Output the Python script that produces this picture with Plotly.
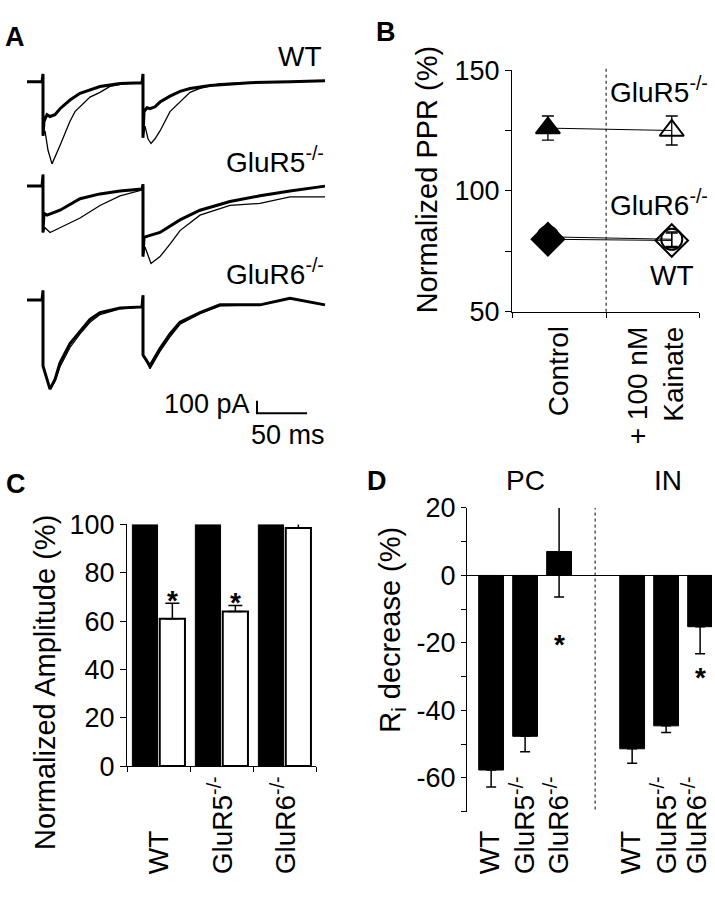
import plotly.graph_objects as go

W, H = 715, 899
FONT = "Liberation Sans, Arial, sans-serif"

# ---------------- panel A: example currents (ms from 1st stimulus, pA) ----------------
wt_ctrl_t = [-16, -1, 0, 0, 1, 4, 7, 12, 17, 27, 37, 47, 57, 77, 99, 100, 100, 101, 104, 107, 112, 117,
             127, 137, 147, 167, 207, 247, 282]
wt_ctrl_i = [0, 0, 62, -431, -315, -262, -277, -262, -215, -146, -92, -62, -38, -15, -8, 62, -446, -238,
             -208, -215, -200, -162, -115, -77, -54, -31, -8, 0, 8]
wt_ka_t = [-16, -1, 0, 0, 2, 5, 9, 13, 17, 27, 32, 47, 57, 67, 82, 99, 100, 100, 102, 105, 108, 112, 117,
           127, 137, 147, 157, 177, 207, 247, 282]
wt_ka_i = [0, 0, 62, -431, -392, -546, -654, -585, -508, -315, -238, -123, -85, -38, -15, -8, 62, -446,
           -354, -454, -492, -454, -392, -238, -161, -85, -54, -15, -8, 0, 8]

r5_ctrl_t = [-16, -1, 0, 0, 1, 4, 17, 37, 57, 77, 99, 100, 100, 101, 107, 117, 137, 157, 187, 217, 247, 282]
r5_ctrl_i = [0, 0, 92, -369, -215, -231, -192, -100, -62, -38, -23, 15, -561, -408, -392, -369, -269,
             -192, -123, -77, -38, 0]
r5_ka_t = [-16, -1, 0, 0, 2, 7, 17, 37, 57, 77, 99, 100, 100, 102, 108, 117, 127, 137, 157, 187, 217,
           247, 282]
r5_ka_i = [0, 0, 92, -369, -331, -369, -331, -254, -154, -77, -31, 15, -561, -485, -615, -561, -461,
           -354, -231, -154, -138, -85, -85]

r6_ctrl_t = [-16, -1, 0, 0, 2, 7, 12, 17, 27, 37, 47, 57, 77, 99, 100, 100, 102, 107, 117, 127, 137,
             157, 177, 217, 247, 282]
r6_ctrl_i = [0, 0, 77, -523, -577, -708, -631, -500, -346, -246, -154, -100, -62, -54, 38, -438, -462,
             -523, -385, -269, -177, -100, -38, -38, 15, -38]
r6_ka_t = r6_ctrl_t
r6_ka_i = [0, 0, 77, -523, -577, -708, -646, -531, -377, -269, -177, -115, -69, -54, 38, -438, -462,
           -546, -408, -292, -192, -108, -46, -38, 15, -38]

trace_offsets = {"WT": 0, "GluR5": -831, "GluR6": -1738}
scale_pa, scale_ms = 100, 50

# ---------------- panel B: normalized PPR ----------------
ppr_conditions = ["Control", "+ 100 nM<br>Kainate"]
ppr_glur5 = [126, 125]
ppr_glur5_err = [5, 6]
ppr_glur6 = [81, 80]
ppr_glur6_err = [3, 3]
ppr_wt = [80, 79.5]
ppr_wt_err = [3, 3]

# ---------------- panel C: normalized amplitude ----------------
amp_groups = ["WT", "GluR5<sup>-/-</sup>", "GluR6<sup>-/-</sup>"]
amp_control = [100, 100, 100]
amp_kainate = [61, 64, 98.5]
amp_kainate_err = [6.4, 2.4, 2]
amp_signif = [True, True, False]

# ---------------- panel D: Ri decrease ----------------
ri_groups = ["WT", "GluR5<sup>-/-</sup>", "GluR6<sup>-/-</sup>"]
ri_pc = [-57.7, -47.7, 7.1]
ri_pc_err_up = [0, 0, 13.5]
ri_pc_err_dn = [5, 4.6, 13.5]
ri_pc_signif = [False, False, True]
ri_in = [-51.4, -44.6, -15.2]
ri_in_err_up = [0, 0, 0]
ri_in_err_dn = [4.3, 2, 8]
ri_in_signif = [False, False, True]


def xp(px):
    return px / W


def yp(py):
    return 1 - py / H


def label(text, x, y, size=28, xanchor="center", yanchor="middle", angle=0, bold=False, align="center"):
    if bold:
        text = "<b>" + text + "</b>"
    return dict(text=text, x=xp(x), y=yp(y), xref="paper", yref="paper", showarrow=False,
                xanchor=xanchor, yanchor=yanchor, textangle=angle, align=align,
                font=dict(family=FONT, size=size, color="black"))


def star(x, y, xref, yref, shift):
    return dict(text="<b>*</b>", x=x, y=y, xref=xref, yref=yref, showarrow=False, yanchor="middle",
                yshift=shift, font=dict(family=FONT, size=28, color="black"))


fig = go.Figure()
ann = []
shapes = []

# panel A traces
for name, ct, ci, kt, ki in [("WT", wt_ctrl_t, wt_ctrl_i, wt_ka_t, wt_ka_i),
                             ("GluR5", r5_ctrl_t, r5_ctrl_i, r5_ka_t, r5_ka_i),
                             ("GluR6", r6_ctrl_t, r6_ctrl_i, r6_ka_t, r6_ka_i)]:
    off = trace_offsets[name]
    fig.add_trace(go.Scatter(x=kt, y=[v + off for v in ki], mode="lines",
                             line=dict(color="black", width=1.3), xaxis="x", yaxis="y", hoverinfo="skip"))
    fig.add_trace(go.Scatter(x=ct, y=[v + off for v in ci], mode="lines",
                             line=dict(color="black", width=3), xaxis="x", yaxis="y", hoverinfo="skip"))

# scale bar
sb_t, sb_y = 214, -2638
fig.add_trace(go.Scatter(x=[sb_t, sb_t, sb_t + scale_ms], y=[sb_y + scale_pa, sb_y, sb_y], mode="lines",
                         line=dict(color="black", width=2), xaxis="x", yaxis="y", hoverinfo="skip"))

# panel B
ppr_x = list(range(len(ppr_conditions)))
for vals, errs, sym, size in [(ppr_glur5, ppr_glur5_err, "triangle-up", 21),
                              (ppr_glur6, ppr_glur6_err, "circle", 21),
                              (ppr_wt, ppr_wt_err, "diamond", 25)]:
    fig.add_trace(go.Scatter(x=ppr_x, y=vals, mode="lines+markers", xaxis="x2", yaxis="y2",
                             line=dict(color="black", width=1),
                             marker=dict(symbol=[sym, sym + "-open"], size=size, color="black",
                                         line=dict(color="black", width=2)),
                             error_y=dict(type="data", array=errs, color="black", thickness=1.3, width=6)))

# panel C
fig.add_trace(go.Bar(x=[0, 1, 2], y=amp_control, width=0.4, offset=-0.415, xaxis="x3", yaxis="y3",
                     marker=dict(color="black", line=dict(color="black", width=1))))
fig.add_trace(go.Bar(x=[0, 1, 2], y=amp_kainate, width=0.4, offset=0.02, xaxis="x3", yaxis="y3",
                     marker=dict(color="white", line=dict(color="black", width=2)),
                     error_y=dict(type="data", symmetric=False, array=amp_kainate_err,
                                  arrayminus=[0, 0, 0], color="black", thickness=1.5, width=7)))

# panel D
ri_pc_x = [0, 1, 2]
ri_in_x = [4.15, 5.15, 6.15]
for xs, vals, up, dn in [(ri_pc_x, ri_pc, ri_pc_err_up, ri_pc_err_dn),
                         (ri_in_x, ri_in, ri_in_err_up, ri_in_err_dn)]:
    fig.add_trace(go.Bar(x=xs, y=vals, width=0.73, offset=-0.365, xaxis="x4", yaxis="y4",
                         marker=dict(color="black", line=dict(color="black", width=1)),
                         error_y=dict(type="data", symmetric=False, array=up, arrayminus=dn,
                                      color="black", thickness=1.5, width=5)))

# ---------- annotations ----------
ann += [label("A", 15, 23, 27, bold=True), label("B", 386, 18, 27, bold=True),
        label("C", 16, 485, 27, bold=True), label("D", 377, 482, 27, bold=True)]

# A labels
ann += [label("WT", 324, 43, 28, xanchor="right"),
        label("GluR5<sup>-/-</sup>", 326, 150, 28, xanchor="right"),
        label("GluR6<sup>-/-</sup>", 326, 266, 28, xanchor="right"),
        label("100 pA", 252, 402, 27, xanchor="right"),
        label("50 ms", 327, 434, 27, xanchor="right")]

# B labels
ann += [label("Normalized PPR (%)", 427, 170, 29, angle=-90),
        label("GluR5<sup>-/-</sup>", 608, 78, 28, xanchor="left"),
        label("GluR6<sup>-/-</sup>", 608, 195, 28, xanchor="left"),
        label("WT", 672, 270, 28),
        label(ppr_conditions[0], 558, 320, 28, angle=-90, yanchor="top"),
        label(ppr_conditions[1], 655, 320, 28, angle=-90, yanchor="top", align="right")]

# C labels
ann.append(label("Normalized Amplitude (%)", 45, 691, 29, angle=-90))
for i, g in enumerate(amp_groups):
    ann.append(label(g, 158 + 63 * i, 891, 28, angle=-90, yanchor="bottom"))
for i, s in enumerate(amp_signif):
    if s:
        ann.append(star(i + 0.22, amp_kainate[i] + amp_kainate_err[i], "x3", "y3", 3))

# D labels
ann += [label("R<sub>i</sub> decrease (%)", 392, 636, 29, angle=-90),
        label("PC", 525, 482, 28), label("IN", 668, 482, 28)]
for xs in (ri_pc_x, ri_in_x):
    for xv, g in zip(xs, ri_groups):
        ann.append(label(g, min(489 + 34 * xv, 695), 891, 28, angle=-90, yanchor="bottom"))
for xs, vals, dn, sig in [(ri_pc_x, ri_pc, ri_pc_err_dn, ri_pc_signif),
                          (ri_in_x, ri_in, ri_in_err_dn, ri_in_signif)]:
    for xv, v, d, s in zip(xs, vals, dn, sig):
        if s:
            ann.append(star(xv, min(v, 0) - d, "x4", "y4", -24))

# dashed separators
shapes.append(dict(type="line", xref="x2", yref="paper", x0=0.47, x1=0.47, y0=yp(307), y1=yp(55),
                   line=dict(color="black", width=1, dash="dot")))
shapes.append(dict(type="line", xref="x4", yref="paper", x0=3.06, x1=3.06, y0=yp(822), y1=yp(510),
                   line=dict(color="black", width=1, dash="dot")))

tickfont = dict(family=FONT, size=27, color="black")
common = dict(showgrid=False, zeroline=False, linecolor="black", linewidth=1.2, ticks="outside",
              tickcolor="black", tickwidth=1.2, ticklen=6, tickfont=tickfont, fixedrange=True)

fig.update_layout(
    width=W, height=H, margin=dict(l=0, r=0, t=0, b=0),
    paper_bgcolor="white", plot_bgcolor="white", showlegend=False,
    font=dict(family=FONT, color="black"),
    annotations=ann, shapes=shapes,
    # panel A
    xaxis=dict(domain=[xp(27), xp(326)], range=[-16, 283], visible=False),
    yaxis=dict(domain=[yp(420), yp(40)], range=[-2700, 223], visible=False),
    # panel B
    xaxis2=dict(common, domain=[xp(512), xp(699)], range=[-0.29, 1.22], anchor="y2",
                showline=True, tickvals=[-0.29, 0.47, 1.22], showticklabels=False, ticklen=5),
    yaxis2=dict(common, domain=[yp(307), yp(57)], range=[50, 150], anchor="x2", showline=True,
                tickvals=[50, 100, 150],
                minor=dict(tickvals=[75, 125], ticks="outside", ticklen=6, tickcolor="black", tickwidth=1.2)),
    # panel C
    xaxis3=dict(common, domain=[xp(127), xp(316)], range=[-0.5, 2.5], anchor="y3", showline=True,
                tickvals=[-0.5, 0.5, 1.5, 2.5], showticklabels=False, ticklen=5),
    yaxis3=dict(common, domain=[yp(777), yp(527)], range=[0, 100], anchor="x3", showline=True,
                tickvals=[0, 20, 40, 60, 80, 100]),
    # panel D
    xaxis4=dict(domain=[xp(467), xp(712)], range=[-0.71, 6.5], anchor="y4", visible=False),
    yaxis4=dict(common, domain=[yp(824), yp(510)], range=[-70, 20], anchor="x4", showline=True,
                zeroline=True, zerolinecolor="black", zerolinewidth=1.2, ticklen=5,
                tickvals=[-60, -40, -20, 0, 20], ticktext=["-60", "-40", "-20", "0", "20"],
                minor=dict(tickvals=[-70, -50, -30, -10, 10], ticks="outside", ticklen=5,
                           tickcolor="black", tickwidth=1.2)),
)

# the default page puts an 8px margin round the body; drop it so the figure sits at the corner
fig.write_html("out.html", config={"displayModeBar": False},
               post_script="document.body.style.margin='0';")
